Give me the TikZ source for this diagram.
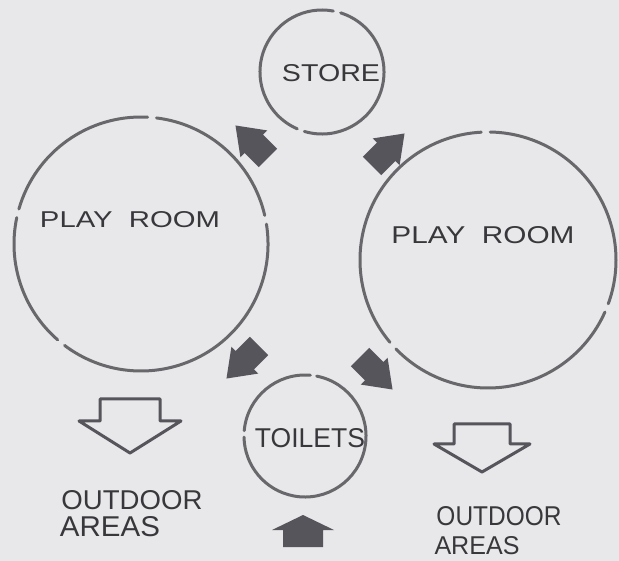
\documentclass[tikz,border=0pt]{standalone}
\usepackage{fontspec}
\setmainfont{Liberation Sans}
\usepackage{graphicx}
\definecolor{bg}{HTML}{E8E8EA}
\definecolor{ink}{HTML}{68686C}
\definecolor{arrowgray}{HTML}{55555B}
\definecolor{txt}{HTML}{38383C}
\newcommand\hwtext[3]{\resizebox{#1pt}{#2pt}{#3}}
\tikzset{
  room/.style={draw=ink, line width=3pt, line cap=round},
  label/.style={text=txt, inner sep=0pt, font=\fontsize{10}{12}\selectfont},
  pics/sarrow/.style n args={4}{code={%
    \fill[arrowgray, line join=round] (0,-#4) -- (#2,-#4) -- (#2,-#3) -- (#1,0) -- (#2,#3) -- (#2,#4) -- (0,#4) -- cycle;}},
  pics/harrow/.style n args={4}{code={%
    \draw[arrowgray, line width=3pt, line join=round] (0,-#4) -- (#2,-#4) -- (#2,-#3) -- (#1,0) -- (#2,#3) -- (#2,#4) -- (0,#4) -- cycle;}}
}
\begin{document}
\begin{tikzpicture}[x=1pt,y=-1pt]
\fill[bg] (0,0) rectangle (619,561);
\useasboundingbox (0,0) rectangle (619,561);

% circles (hand-drawn, with small gaps)
\coordinate (cstore) at (322,72);
\coordinate (cleft) at (141,244);
\coordinate (cright) at (488,260);
\coordinate (ctoil) at (305,436);
\foreach \a/\b in {113.5/280.5, 287.5/466.5}
  \draw[room] (cstore) ++(\a:62) arc[start angle=\a, end angle=\b, radius=62];
\foreach \a/\b in {131/192, 196/273, 277/347, 351/487}
  \draw[room] (cleft) ++(\a:127) arc[start angle=\a, end angle=\b, radius=127];
\foreach \a/\b in {24/136, 140/267, 271/380}
  \draw[room] (cright) ++(\a:128) arc[start angle=\a, end angle=\b, radius=128];
\foreach \a/\b in {185/275, 281/539}
  \draw[room] (ctoil) ++(\a:61) arc[start angle=\a, end angle=\b, radius=61];

% labels
\node[label] (store) at (331,73) {\hwtext{98}{17}{STORE}};
\node[label] (playL) at (130,220) {\hwtext{180}{16}{PLAY\ \ ROOM}};
\node[label] (playR) at (483,235) {\hwtext{183}{17}{PLAY\ \ ROOM}};
\node[label] (toilets) at (310,438) {\hwtext{110}{19}{TOILETS}};
\node[label] (outL1) at (132,500) {\hwtext{141}{19}{OUTDOOR}};
\node[label] (outL2) at (110,527) {\hwtext{100}{20}{AREAS}};
\node[label] (outR1) at (499,516) {\hwtext{125}{19}{OUTDOOR}};
\node[label] (outR2) at (477,546) {\hwtext{85}{18}{AREAS}};

% solid arrows
\pic[shift={(268,158)}, rotate=135] {sarrow={46}{20}{19}{13}};
\pic[shift={(372,166)}, rotate=45] {sarrow={46}{20}{19}{13}};
\pic[shift={(259,346)}, rotate=225] {sarrow={46}{20}{19}{13}};
\pic[shift={(360,357)}, rotate=-45] {sarrow={46}{20}{19}{13}};
\pic[shift={(303,547)}, rotate=90] {sarrow={32}{17}{31}{20}};

% hollow arrows
\pic[shift={(130,399)}, rotate=-90] {harrow={54}{22}{51}{30}};
\pic[shift={(482,424)}, rotate=-90] {harrow={48}{20}{48}{28}};
\end{tikzpicture}
\end{document}
